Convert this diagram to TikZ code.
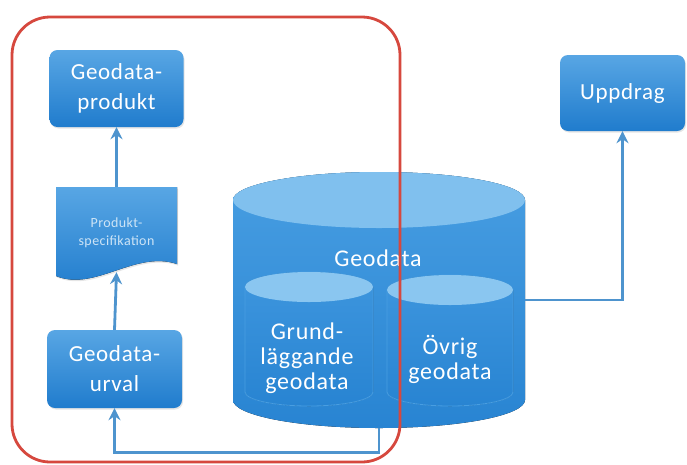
\documentclass[tikz,border=0pt]{standalone}
\usepackage{fontspec}
\setmainfont{Carlito}
\newfontfamily\widefont[LetterSpace=3]{Carlito}
\usetikzlibrary{arrows.meta,shadows}
\definecolor{boxtop}{RGB}{88,166,228}
\definecolor{boxbot}{RGB}{32,124,205}
\definecolor{cylbodytop}{RGB}{72,158,226}
\definecolor{cylbodybot}{RGB}{40,132,210}
\definecolor{cyltop}{RGB}{128,192,238}
\definecolor{incyltop}{RGB}{138,198,240}
\definecolor{incylbody}{RGB}{62,150,222}
\definecolor{connc}{RGB}{78,148,206}
\definecolor{redframe}{RGB}{214,72,62}
\definecolor{spectxt}{RGB}{205,228,246}
\begin{document}
\begin{tikzpicture}[x=1pt,y=1pt,
  blbox/.style={draw=none, rounded corners=8pt, top color=boxtop, bottom color=boxbot,
    text=white, align=center, font=\widefont\fontsize{23}{30}\selectfont, inner sep=0pt,
    drop shadow={opacity=0.2, shadow xshift=1pt, shadow yshift=-1.5pt}},
  cn/.style={draw=connc, line width=2.8pt, -{Stealth[length=12pt,width=12pt,inset=4pt]}},
  cyltext/.style={text=white, align=center, font=\widefont\fontsize{24}{25}\selectfont},
  hold/.style={draw=none, inner sep=0pt}]
\useasboundingbox (0,0) rectangle (687,-464);
\fill[white] (0,0) rectangle (687,-464);

% boxes
\node[blbox, minimum width=134pt, minimum height=77pt] (prod) at (116.5,-88.5) {Geodata-\\produkt};
\node[blbox, minimum width=135pt, minimum height=78pt] (urval) at (114.5,-369) {Geodata-\\urval};
\node[blbox, minimum width=125pt, minimum height=76pt] (upp) at (622.5,-93) {Uppdrag};

% document shape
\fill[top color=boxtop, bottom color=boxbot, drop shadow={opacity=0.2, shadow xshift=1pt, shadow yshift=-1.5pt}]
  (56,-187) -- (177,-187) -- (177,-264) .. controls (135,-250) and (95,-292) .. (56,-276) -- cycle;
\node[hold, minimum width=121pt, minimum height=85pt] (spec) at (116.5,-229.5) {};
\node[text=spectxt, align=center, font=\widefont\fontsize{14}{18}\selectfont] (spectext) at (116.5,-233) {Produkt-\\specifikation};

% big cylinder
\fill[top color=cylbodytop, bottom color=cylbodybot]
  (233,-200) -- (233,-400) arc[start angle=180, end angle=360, x radius=146, y radius=28]
  -- (525,-200) arc[start angle=0, end angle=180, x radius=146, y radius=28] -- cycle;
\fill[cyltop] (379,-200) ellipse[x radius=146, y radius=28];
\node[hold, minimum width=292pt, minimum height=256pt] (gd) at (379,-300) {};
\node[cyltext] (gdtext) at (378,-258) {Geodata};

% inner cylinder 1
\fill[top color=incylbody, bottom color=cylbodybot, draw=cylbodytop, line width=0.8pt]
  (245,-287) -- (245,-392) arc[start angle=180, end angle=360, x radius=64, y radius=14]
  -- (373,-287) arc[start angle=0, end angle=180, x radius=64, y radius=15] -- cycle;
\fill[incyltop] (309,-287) ellipse[x radius=64, y radius=15];
\node[cyltext] (grund) at (307,-358) {Grund-\\läggande\\geodata};

% inner cylinder 2
\fill[top color=incylbody, bottom color=cylbodybot, draw=cylbodytop, line width=0.8pt]
  (387,-290) -- (387,-392) arc[start angle=180, end angle=360, x radius=63, y radius=14]
  -- (513,-290) arc[start angle=0, end angle=180, x radius=63, y radius=15] -- cycle;
\fill[incyltop] (450,-290) ellipse[x radius=63, y radius=15];
\node[cyltext] (ovrig) at (450,-359.5) {Övrig\\geodata};

% connectors
\draw[cn] (spec.north) -- (prod.south);
\draw[cn] (urval.north) -- (spec.south);
\draw[cn] (gd.east) -| (upp.south);
\draw[cn] (gd.south) -- ++(0,-24) -| (urval.south);

% red frame
\draw[redframe, line width=2.8pt, rounded corners=38pt] (12,-17) rectangle (400,-462);
\end{tikzpicture}
\end{document}
